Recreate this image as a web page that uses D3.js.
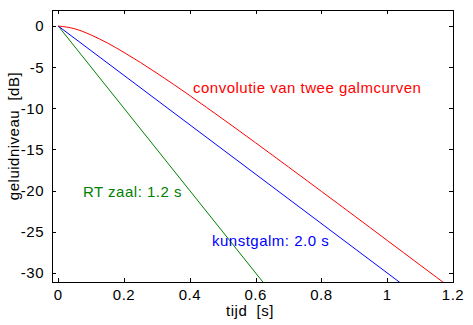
<!DOCTYPE html>
<html><head><meta charset="utf-8">
<script src="https://cdn.jsdelivr.net/npm/d3@7"></script>
<style>body{margin:0;background:#fff}svg{display:block}text{letter-spacing:0.5px}</style>
</head><body>
<script>
const xTicks = [0, 0.2, 0.4, 0.6, 0.8, 1, 1.2];
const yTicks = [0, -5, -10, -15, -20, -25, -30];
const redT = [0,0.05,0.1,0.15,0.2,0.25,0.3,0.35,0.4,0.45,0.5,0.55,0.6,0.65,0.7,0.75,0.8,0.85,0.9,0.95,1.0,1.05,1.1,1.15,1.2];
const redDb = [0,-0.33,-1.09,-2.07,-3.21,-4.43,-5.73,-7.07,-8.45,-9.86,-11.29,-12.73,-14.19,-15.65,-17.13,-18.6,-20.09,-21.57,-23.06,-24.55,-26.05,-27.54,-29.04,-30.53,-32.03];
const greenT = [0, 0.7];
const greenDb = [0, -35];
const blueT = [0, 1.1];
const blueDb = [0, -33];
const labels = ["convolutie van twee galmcurven", "RT zaal: 1.2 s", "kunstgalm: 2.0 s"];

const W = 473, H = 325;
const m = {l: 52, t: 10, r: 20, b: 43};
const svg = d3.select("body").append("svg").attr("width", W).attr("height", H);
const x = d3.scaleLinear().domain([-0.019, 1.2]).range([m.l, W - m.r]);
const y = d3.scaleLinear().domain([-31.1, 1.95]).range([H - m.b, m.t]);
const font = "'Liberation Sans', Arial, sans-serif";

svg.append("defs").append("clipPath").attr("id", "clip").append("rect")
  .attr("x", m.l).attr("y", m.t).attr("width", W - m.l - m.r).attr("height", H - m.t - m.b);

const g = svg.append("g").attr("clip-path", "url(#clip)");
const series = [
  {t: greenT, v: greenDb, c: "#008000"},
  {t: blueT, v: blueDb, c: "#0000ff"},
  {t: redT, v: redDb, c: "#ff0000", curve: d3.curveMonotoneX}
];
series.forEach(s => {
  const l = d3.line().x(d => x(d[0])).y(d => y(d[1])).curve(s.curve || d3.curveLinear);
  g.append("path").attr("d", l(s.t.map((t, i) => [t, s.v[i]])))
    .attr("fill", "none").attr("stroke", s.c).attr("stroke-width", 1);
});

// axes
const tl = 4;
const ax = svg.append("g").attr("stroke", "#000").attr("stroke-width", 1).attr("shape-rendering", "crispEdges");
ax.append("rect").attr("x", m.l + 0.5).attr("y", m.t + 0.5).attr("width", W - m.l - m.r).attr("height", H - m.t - m.b)
  .attr("fill", "none");
xTicks.forEach(v => {
  const px = Math.round(x(v)) + 0.5;
  ax.append("line").attr("x1", px).attr("x2", px).attr("y1", H - m.b).attr("y2", H - m.b - tl);
  ax.append("line").attr("x1", px).attr("x2", px).attr("y1", m.t).attr("y2", m.t + tl);
});
yTicks.forEach(v => {
  const py = Math.round(y(v)) + 0.5;
  ax.append("line").attr("x1", m.l).attr("x2", m.l + tl).attr("y1", py).attr("y2", py);
  ax.append("line").attr("x1", W - m.r).attr("x2", W - m.r - tl).attr("y1", py).attr("y2", py);
});

const fs = 15;
svg.append("g").selectAll("text").data(xTicks).join("text")
  .attr("x", d => x(d)).attr("y", 300).attr("text-anchor", "middle")
  .attr("font-family", font).attr("font-size", fs).text(d => d3.format("")(d));
svg.append("g").selectAll("text").data(yTicks).join("text")
  .attr("x", 44).attr("y", d => y(d)).attr("dy", "0.36em").attr("text-anchor", "end")
  .attr("font-family", font).attr("font-size", fs).text(d => d);

svg.append("text").attr("x", 250).attr("y", 316).attr("text-anchor", "middle")
  .attr("font-family", font).attr("font-size", fs).style("white-space", "pre").text("tijd  [s]");
svg.append("text").attr("transform", "translate(19,136) rotate(-90)").attr("text-anchor", "middle")
  .attr("font-family", font).attr("font-size", fs).style("white-space", "pre").text("geluidniveau  [dB]");

svg.append("text").attr("x", 193).attr("y", 93).attr("fill", "#ff0000")
  .attr("font-family", font).attr("font-size", fs).text(labels[0]);
svg.append("text").attr("x", 83).attr("y", 197).attr("fill", "#008000")
  .attr("font-family", font).attr("font-size", fs).text(labels[1]);
svg.append("text").attr("x", 212).attr("y", 246).attr("fill", "#0000ff")
  .attr("font-family", font).attr("font-size", fs).text(labels[2]);
</script>
</body></html>
